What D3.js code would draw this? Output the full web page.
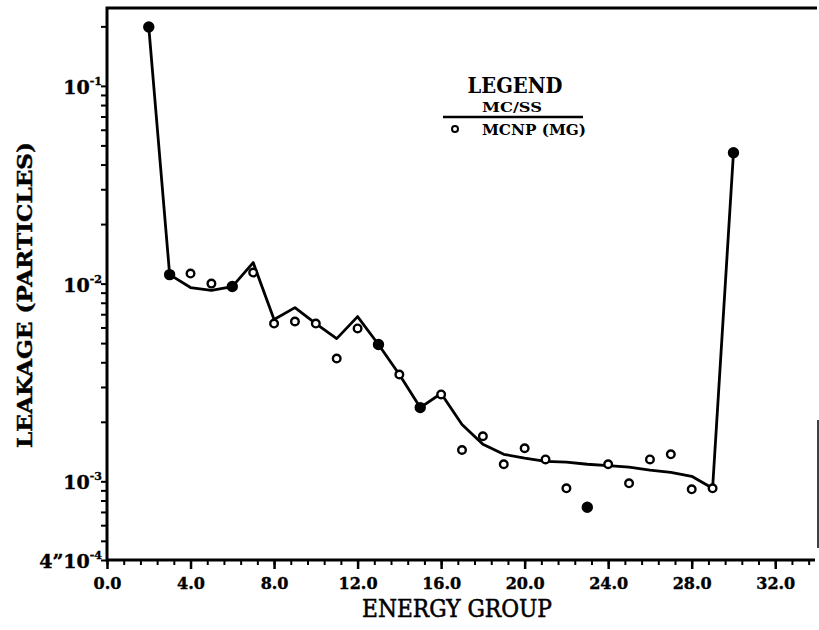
<!DOCTYPE html>
<html>
<head>
<meta charset="utf-8">
<script src="https://cdn.jsdelivr.net/npm/d3@7"></script>
<style>
  body { margin: 0; background: #fff; }
  svg text { font-family: "DejaVu Serif", "Liberation Serif", serif; fill: #000; }
</style>
</head>
<body>
<svg id="chart" width="819" height="630"></svg>
<script>
  // energy groups and leakage values
  const groups = [2, 3, 4, 5, 6, 7, 8, 9, 10, 11, 12, 13, 14, 15, 16, 17, 18, 19, 20, 21, 22, 23, 24, 25, 26, 27, 28, 29, 30];
  const mcss = [0.1986, 0.0111, 0.00955, 0.00923, 0.00966, 0.01277, 0.00658, 0.00756, 0.00628, 0.00527, 0.00681, 0.00492, 0.00347,
    0.00236, 0.00278, 0.00194, 0.00154, 0.00137, 0.00131, 0.00126, 0.00125, 0.00122, 0.0012, 0.00118, 0.00114, 0.00111, 0.00106, 0.000922, 0.0459];
  const mcnp = [0.1986, 0.0111, 0.01124, 0.0100, 0.00966, 0.01137, 0.00628, 0.00643, 0.00628, 0.00418, 0.00593, 0.00492, 0.00347,
    0.00236, 0.00275, 0.00144, 0.00169, 0.00122, 0.00147, 0.00129, 0.000922, 0.000739, 0.00122, 0.000977, 0.00129, 0.00137, 0.000911, 0.000922, 0.0459];
  // groups where the MCNP marker prints as a solid dot
  const solidGroups = [2, 3, 6, 13, 15, 23, 30];

  const xTicks = [0, 4, 8, 12, 16, 20, 24, 28, 32];
  const yTickValues = [4e-4, 1e-3, 1e-2, 1e-1];
  const yTickBase = ["4\u201D10", "10", "10", "10"];
  const yTickExp = ["-4", "-3", "-2", "-1"];

  const svg = d3.select("#chart");
  const m = { left: 107, right: 817, top: 8, bottom: 560 };

  const x = d3.scaleLinear().domain([0, 34]).range([m.left, m.right]);
  const y = d3.scaleLog().domain([4e-4, 0.2477]).range([m.bottom, m.top]);

  // x axis: minor ticks every 0.8, labelled majors every 4
  const xMinor = d3.range(0, 34.01, 0.8).filter(v => v <= 34);
  svg.append("g").attr("transform", `translate(0,${m.bottom})`)
    .call(d3.axisBottom(x).tickValues(xMinor).tickSize(5).tickFormat(""))
    .call(g => g.select(".domain").remove())
    .selectAll("line").attr("stroke", "#000").attr("stroke-width", 2);
  svg.append("g").attr("transform", `translate(0,${m.bottom})`)
    .call(d3.axisBottom(x).tickValues(xTicks).tickSize(9).tickPadding(9).tickFormat(d3.format(".1f")))
    .call(g => g.select(".domain").remove())
    .call(g => g.selectAll("line").attr("stroke", "#000").attr("stroke-width", 2.5))
    .call(g => g.selectAll("text").attr("font-size", 16).attr("font-weight", "bold")
      .style("font-family", "DejaVu Serif").attr("stroke", "#000").attr("stroke-width", 0.4));

  // y axis: log minor ticks
  const yMinor = [];
  for (let d = -4; d <= -1; d++) for (let k = 1; k <= 9; k++) {
    const v = k * Math.pow(10, d);
    if (v >= 4e-4 && v <= 0.2477) yMinor.push(v);
  }
  svg.append("g").attr("transform", `translate(${m.left},0)`)
    .call(d3.axisLeft(y).tickValues(yMinor).tickSize(6).tickFormat(""))
    .call(g => g.select(".domain").remove())
    .selectAll("line").attr("stroke", "#000").attr("stroke-width", 2);

  const yl = svg.append("g").selectAll("text").data(yTickValues).join("text")
    .attr("x", 102).attr("y", d => y(d) + 8)
    .attr("text-anchor", "end").attr("font-size", 19).attr("font-weight", "bold")
    .attr("stroke", "#000").attr("stroke-width", 0.4);
  yl.append("tspan").text((d, i) => yTickBase[i]);
  yl.append("tspan").attr("dy", -9).attr("font-size", 11).text((d, i) => yTickExp[i]);

  // frame
  svg.append("path")
    .attr("d", `M${m.right},${m.top}H${m.left}V${m.bottom}H${m.right - 2}`)
    .attr("fill", "none").attr("stroke", "#000").attr("stroke-width", 3);
  svg.append("line").attr("x1", 818).attr("x2", 818).attr("y1", 420).attr("y2", 548)
    .attr("stroke", "#000").attr("stroke-width", 1.5);

  // MC/SS line
  const line = d3.line().x((d, i) => x(groups[i])).y(d => y(d));
  svg.append("path").datum(mcss).attr("d", line)
    .attr("fill", "none").attr("stroke", "#000").attr("stroke-width", 2.8)
    .attr("stroke-linejoin", "round");

  // MCNP (MG) markers
  svg.append("g").selectAll("circle").data(mcnp).join("circle")
    .attr("cx", (d, i) => x(groups[i])).attr("cy", d => y(d))
    .attr("r", (d, i) => solidGroups.includes(groups[i]) ? 4.5 : 3.8)
    .attr("fill", (d, i) => solidGroups.includes(groups[i]) ? "#000" : "#fff")
    .attr("stroke", "#000").attr("stroke-width", 2.4);

  // axis titles
  svg.append("text").attr("x", 457).attr("y", 617).attr("text-anchor", "middle")
    .attr("font-size", 25).attr("textLength", 190).attr("lengthAdjust", "spacingAndGlyphs")
    .attr("stroke", "#000").attr("stroke-width", 0.6)
    .text("ENERGY GROUP");
  svg.append("text").attr("transform", "translate(32,295) rotate(-90)").attr("text-anchor", "middle")
    .attr("font-size", 20).attr("font-weight", "bold")
    .attr("textLength", 306).attr("lengthAdjust", "spacingAndGlyphs")
    .attr("stroke", "#000").attr("stroke-width", 0.4)
    .text("LEAKAGE (PARTICLES)");

  // legend
  const lg = svg.append("g");
  lg.append("text").attr("x", 515).attr("y", 93).attr("text-anchor", "middle")
    .attr("font-size", 22).attr("font-weight", "bold")
    .attr("textLength", 95).attr("lengthAdjust", "spacingAndGlyphs").text("LEGEND");
  lg.append("text").attr("x", 512).attr("y", 112).attr("text-anchor", "middle")
    .attr("font-size", 13).attr("font-weight", "bold")
    .attr("textLength", 60).attr("lengthAdjust", "spacingAndGlyphs").text("MC/SS");
  lg.append("line").attr("x1", 443).attr("x2", 583).attr("y1", 117).attr("y2", 117)
    .attr("stroke", "#000").attr("stroke-width", 2.5);
  lg.append("circle").attr("cx", 455).attr("cy", 129).attr("r", 3)
    .attr("fill", "#fff").attr("stroke", "#000").attr("stroke-width", 2);
  lg.append("text").attr("x", 482).attr("y", 135)
    .attr("font-size", 14).attr("font-weight", "bold")
    .attr("textLength", 104).attr("lengthAdjust", "spacingAndGlyphs").text("MCNP (MG)");
</script>
</body>
</html>
